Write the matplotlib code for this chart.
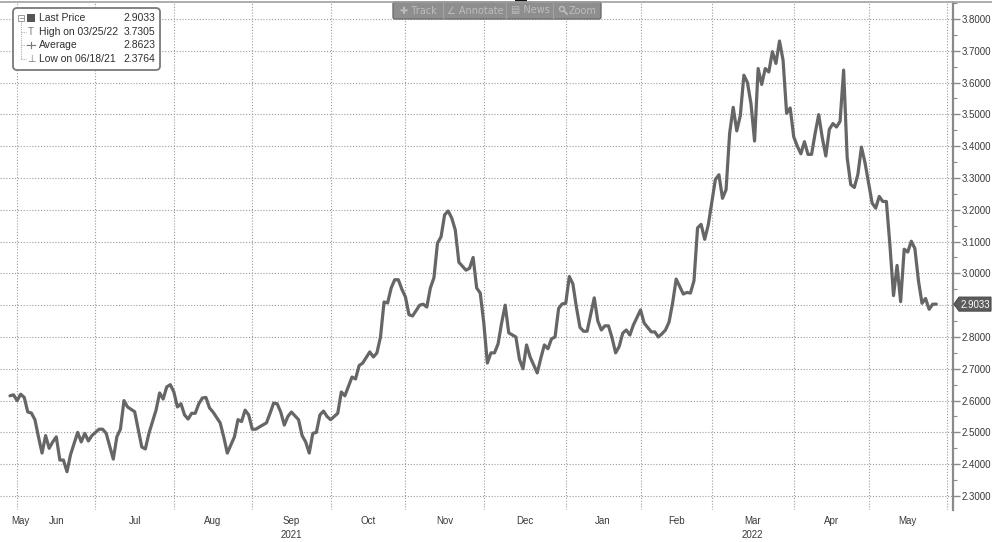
import matplotlib
matplotlib.use('Agg')
import matplotlib.pyplot as plt
import numpy as np
import pandas as pd
from matplotlib.patches import FancyBboxPatch, Rectangle, Polygon, Circle
from matplotlib.ticker import MultipleLocator, FuncFormatter
from matplotlib.transforms import blended_transform_factory

# ---------------- data ----------------
# trading days counted from 2021-06-01 (business-day index) and closing values
trading_day = [
    -2, -1, 0, 1, 2, 3, 4, 5, 6, 7, 8, 9, 10, 11, 12, 13, 14, 15, 17, 18, 19, 20, 21,
    23, 24, 25, 27, 28, 29, 30, 31, 33, 35, 36, 37, 39, 40, 41, 42, 43,
    44, 45, 46, 47, 48, 49, 50, 51, 52, 53, 54, 55, 57, 58, 59, 61, 62, 63, 64, 65,
    66, 67, 68, 70, 71, 72, 73, 74, 75, 76, 77, 79, 80, 81, 82, 83, 84, 85, 86, 87,
    88, 89, 90, 91, 92, 94, 95, 96, 97, 99, 100, 101, 102, 103, 104, 105, 106, 107, 108,
    109, 110, 111, 113, 114, 115, 116, 117, 118, 119, 120, 121, 122, 123, 124, 126, 127, 128, 129, 130,
    131, 132, 133, 134, 135, 136, 137, 138, 140, 141, 142, 143, 144, 146, 147, 148, 149, 150, 151, 152, 153,
    154, 155, 156, 157, 158, 159, 160, 162, 163, 164, 165, 166, 167, 168, 169, 170, 171, 172, 173, 175,
    176, 177, 178, 179, 180, 181, 182, 183, 184, 185, 187, 188, 189, 190, 191, 192, 193, 194,
    196, 197, 198, 199, 200, 201, 202, 203, 204, 205, 206, 207, 208, 209, 210, 211, 212, 213, 214, 215, 216, 217,
    218, 219, 220, 221, 222, 223, 224, 225, 226, 227, 228, 229, 230, 231, 232, 233, 234, 235, 236, 237, 238,
    240, 241, 242, 243, 244, 245, 246, 247, 248, 249, 250, 251, 252, 253, 254, 255, 256, 257, 258,
]
price = [
    2.615, 2.618, 2.600, 2.620, 2.610, 2.564, 2.561, 2.540, 2.486, 2.435, 2.490, 2.450, 2.470, 2.486, 2.413, 2.413, 2.3764, 2.430, 2.500, 2.470, 2.497, 2.473, 2.490,
    2.510, 2.510, 2.497, 2.416, 2.486, 2.510, 2.600, 2.580, 2.565, 2.454, 2.448, 2.497, 2.570, 2.624, 2.605, 2.643, 2.650,
    2.627, 2.580, 2.590, 2.555, 2.542, 2.560, 2.560, 2.590, 2.608, 2.610, 2.577, 2.564, 2.530, 2.486, 2.435, 2.486, 2.540, 2.534, 2.570, 2.555,
    2.510, 2.510, 2.517, 2.530, 2.560, 2.592, 2.590, 2.564, 2.523, 2.550, 2.564, 2.540, 2.490, 2.470, 2.435, 2.497, 2.500, 2.555, 2.567, 2.550,
    2.540, 2.550, 2.560, 2.627, 2.615, 2.674, 2.668, 2.710, 2.718, 2.753, 2.737, 2.750, 2.800, 2.910, 2.907, 2.954, 2.980, 2.980, 2.950,
    2.926, 2.870, 2.866, 2.900, 2.903, 2.894, 2.954, 2.986, 3.095, 3.115, 3.184, 3.196, 3.174, 3.136, 3.035, 3.010, 3.016, 3.050, 2.954, 2.938,
    2.844, 2.718, 2.750, 2.750, 2.778, 2.844, 2.900, 2.813, 2.800, 2.730, 2.700, 2.775, 2.737, 2.687, 2.733, 2.775, 2.763, 2.794, 2.800, 2.890, 2.904,
    2.906, 2.990, 2.967, 2.893, 2.830, 2.818, 2.818, 2.923, 2.850, 2.822, 2.835, 2.835, 2.797, 2.750, 2.770, 2.812, 2.822, 2.806, 2.838, 2.885,
    2.844, 2.830, 2.816, 2.816, 2.800, 2.810, 2.822, 2.847, 2.907, 2.982, 2.935, 2.940, 2.938, 2.977, 3.143, 3.154, 3.107, 3.152,
    3.295, 3.310, 3.236, 3.263, 3.440, 3.522, 3.448, 3.496, 3.623, 3.600, 3.533, 3.416, 3.644, 3.594, 3.644, 3.633, 3.697, 3.660, 3.7305, 3.670, 3.503, 3.520,
    3.429, 3.400, 3.376, 3.414, 3.374, 3.374, 3.440, 3.499, 3.427, 3.369, 3.453, 3.471, 3.460, 3.478, 3.639, 3.363, 3.279, 3.270, 3.311, 3.397, 3.348,
    3.221, 3.205, 3.242, 3.226, 3.226, 3.088, 2.930, 3.025, 2.911, 3.076, 3.067, 3.101, 3.078, 2.977, 2.906, 2.921, 2.887, 2.903, 2.9033,
]

month_labels = ['Jun', 'Jul', 'Aug', 'Sep', 'Oct', 'Nov', 'Dec', 'Jan', 'Feb', 'Mar', 'Apr', 'May']
first_month_label = 'May'
year_labels = {'Sep': '2021', 'Mar': '2022'}

legend_names = ['Last Price', 'High on 03/25/22', 'Average', 'Low on 06/18/21']
legend_values = ['2.9033', '3.7305', '2.8623', '2.3764']
last_price = 2.9033

toolbar_items = ['\u271a Track', '\u2220 Annotate', '\u25a4 News', 'Zoom']

# ---------------- layout ----------------
W, H = 992, 542
fig = plt.figure(figsize=(W / 100, H / 100), dpi=100)
fig.patch.set_facecolor('white')
plt.rcParams['font.family'] = ['Liberation Sans', 'DejaVu Sans']

ax_top, ax_bot, ax_right = 3, 510, 953
ax = fig.add_axes([0, 1 - ax_bot / H, ax_right / W, (ax_bot - ax_top) / H])
ax.set_facecolor('white')

# business-day calendar
bdays = pd.bdate_range('2021-05-03', '2022-06-30')
origin = bdays.searchsorted(pd.Timestamp('2021-06-01'))
def bidx(ts):
    return int(bdays.searchsorted(pd.Timestamp(ts))) - origin

month_starts = pd.date_range('2021-06-01', '2022-06-01', freq='MS')
ms_idx = [bidx(m) for m in month_starts]

ax.plot(trading_day, price, color='#666666', lw=2.3, solid_joinstyle='round',
        solid_capstyle='round', zorder=3)

ax.set_xlim(-4.8, 262.7)
ax.set_ylim(2.256, 3.850)

for s in ['top', 'left', 'bottom']:
    ax.spines[s].set_visible(False)
ax.spines['right'].set_color('#8a8a8a')
ax.spines['right'].set_linewidth(1.6)

ax.set_xticks(ms_idx)
ax.tick_params(axis='x', length=0, labelbottom=False)
ax.yaxis.tick_right()
ax.yaxis.set_major_locator(MultipleLocator(0.1))
ax.yaxis.set_minor_locator(MultipleLocator(0.05))
def fmt(v, pos):
    if abs(v - 2.9) < 1e-6:
        return ''
    return f'{v:.4f}'
ax.yaxis.set_major_formatter(FuncFormatter(fmt))
ax.tick_params(axis='y', which='major', length=5, width=1.0, color='#8a8a8a',
               labelsize=7, labelcolor='#3a3a3a', pad=1)
ax.tick_params(axis='y', which='minor', length=3, width=0.8, color='#8a8a8a')
ax.grid(True, which='major', axis='both', color='#9c9c9c', lw=0.8,
        ls=(0, (1, 1.6)), zorder=1)

# month labels
trans = blended_transform_factory(ax.transData, ax.transAxes)
ylab = (ax_bot - 521) / (ax_bot - ax_top)
yyear = (ax_bot - 535) / (ax_bot - ax_top)
for i, lab in enumerate(month_labels):
    mid = (ms_idx[i] + ms_idx[i + 1]) / 2
    ax.text(mid, ylab, lab, transform=trans, ha='center', va='center',
            fontsize=7, color='#3a3a3a', clip_on=False)
    if lab in year_labels:
        ax.text(mid, yyear, year_labels[lab], transform=trans, ha='center',
                va='center', fontsize=7, color='#3a3a3a', clip_on=False)
ax.text(-4.8 + 5.6, ylab, first_month_label, transform=trans, ha='center',
        va='center', fontsize=7, color='#3a3a3a', clip_on=False)

# ---------------- overlay (legend, toolbar, tag) in pixel coords ----------------
ov = fig.add_axes([0, 0, 1, 1], zorder=10)
ov.set_xlim(0, W)
ov.set_ylim(H, 0)
ov.axis('off')
ov.patch.set_alpha(0)

# last price tag, placed at the data value via the chart's transform
tag_y = H - ax.transData.transform((0, last_price))[1]
ov.add_patch(Polygon([[954, tag_y], [959, tag_y - 7], [991, tag_y - 7],
                      [991, tag_y + 7], [959, tag_y + 7]], closed=True,
                     fc='#5c5c5c', ec='#4a4a4a', lw=0.8))
ov.text(975, tag_y + 0.5, f'{last_price:.4f}', ha='center', va='center',
        fontsize=7, color='white')

ov.plot([0, W], [2, 2], color='#a0a0a0', lw=1.2)
ov.add_patch(Rectangle((515, 0), 12, 2.5, fc='#111111', ec='none'))

# toolbar
ov.add_patch(FancyBboxPatch((393, 2), 208, 17, boxstyle='round,pad=0,rounding_size=2',
                            fc='#8e8e8e', ec='#6e6e6e', lw=1))
for xs in [443, 506, 553]:
    ov.plot([xs, xs], [3, 18], color='#a2a2a2', lw=0.8)
for xc, t in zip([418, 475, 530, 583], toolbar_items):
    ov.text(xc, 10.5, t, ha='center', va='center', fontsize=7, color='#bdbdbd',
            family=['DejaVu Sans'])
ov.add_patch(Circle((562, 9.0), 2.5, fc='none', ec='#bdbdbd', lw=1.0))
ov.plot([564, 567], [11, 14], color='#bdbdbd', lw=1.3)

# legend box
ov.add_patch(FancyBboxPatch((13, 8), 147, 62, boxstyle='round,pad=0,rounding_size=4',
                            fc='white', ec='#7a7a7a', lw=1.3))
rows_y = [18, 32, 45, 59]
ov.plot([21, 21], [22, 59], color='#b0b0b0', lw=0.8, ls=(0, (1, 1)))
for yy in rows_y[1:]:
    ov.plot([21, 26], [yy, yy], color='#b0b0b0', lw=0.8, ls=(0, (1, 1)))
ov.add_patch(Rectangle((18, 15), 6, 6, fc='white', ec='#999999', lw=0.7))
ov.plot([19.5, 22.5], [18, 18], color='#999999', lw=0.7)
ov.add_patch(Rectangle((27, 13.5), 8, 8.5, fc='#555555', ec='none'))
ov.text(31, rows_y[1], 'T', ha='center', va='center', fontsize=7, color='#777777')
ov.plot([27, 35], [rows_y[2], rows_y[2]], color='#777777', lw=0.8)
ov.plot([31, 31], [rows_y[2] - 3, rows_y[2] + 3], color='#777777', lw=0.8)
ov.text(31, rows_y[3], '\u22a5', ha='center', va='center', fontsize=7, color='#777777',
        family=['DejaVu Sans'])
for yy, name, val in zip(rows_y, legend_names, legend_values):
    ov.text(39, yy, name, ha='left', va='center', fontsize=7.5, color='#2e2e2e')
    ov.text(155, yy, val, ha='right', va='center', fontsize=7.5, color='#2e2e2e')

fig.savefig('out.png', dpi=100, facecolor='white')
